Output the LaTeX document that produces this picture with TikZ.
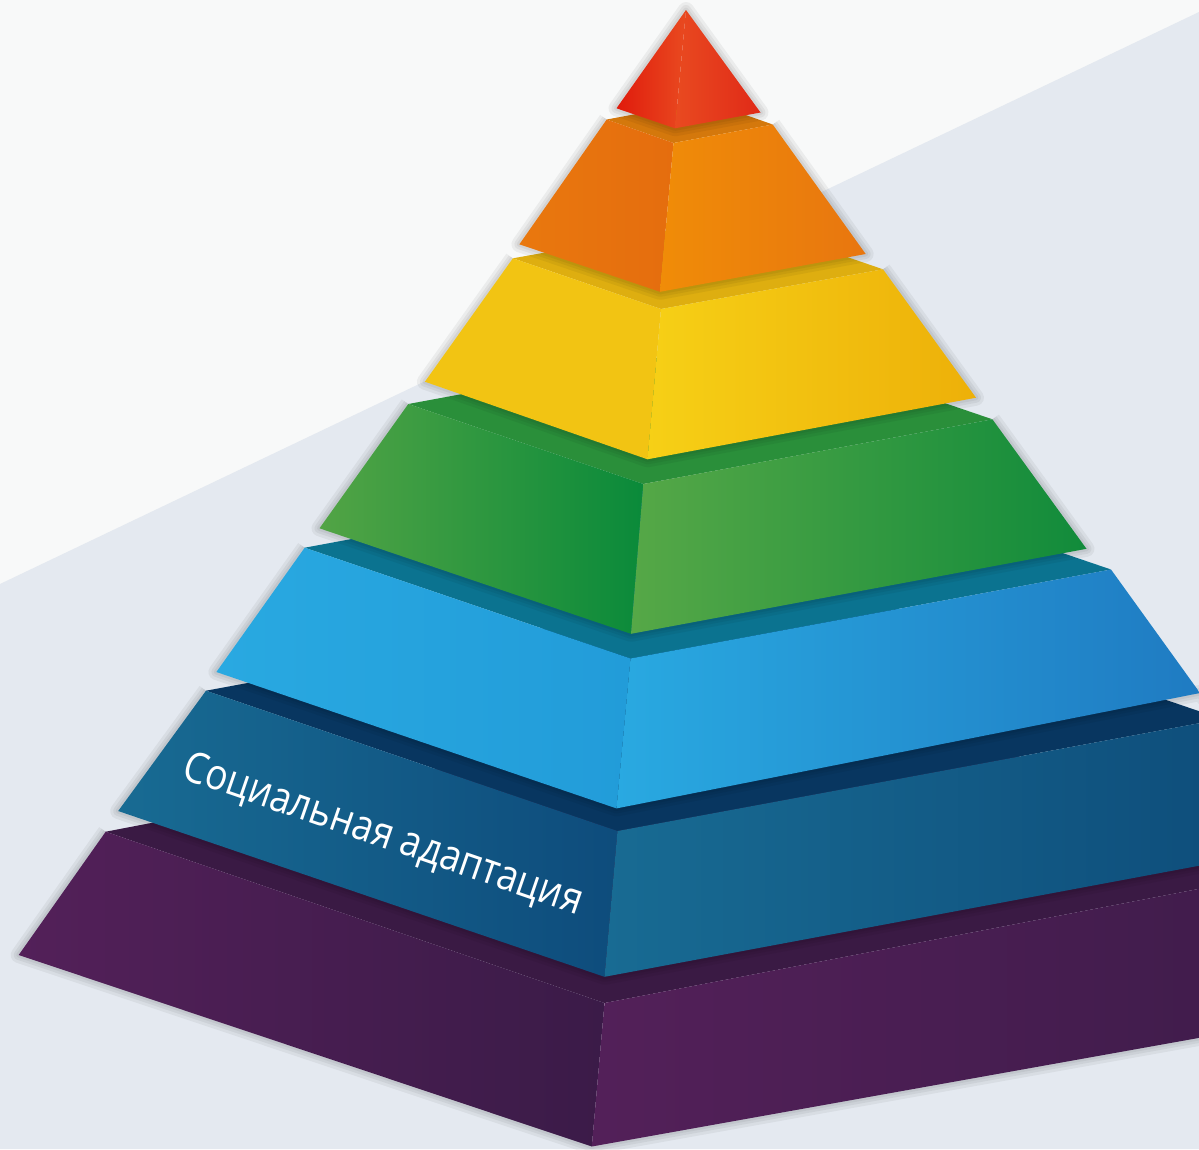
\documentclass[tikz,border=0pt]{standalone}
\usepackage{fontspec}
\newfontfamily\labelfont[FakeStretch=0.86]{Open Sans}

\definecolor{bglight}{HTML}{F8F9F9}
\definecolor{bgband}{HTML}{E4E9F0}
\definecolor{redA}{HTML}{E01B0C}
\definecolor{redB}{HTML}{E94A20}
\definecolor{redC}{HTML}{E02A18}
\definecolor{orangetop}{HTML}{D4780C}
\definecolor{orangeA}{HTML}{E9780E}
\definecolor{orangeB}{HTML}{E56D0E}
\definecolor{orangeC}{HTML}{F08C08}
\definecolor{orangeD}{HTML}{E8760F}
\definecolor{yellowtop}{HTML}{DEAE10}
\definecolor{yellowA}{HTML}{F2C413}
\definecolor{yellowB}{HTML}{F6D016}
\definecolor{yellowC}{HTML}{EDB009}
\definecolor{greentop}{HTML}{2A8F3A}
\definecolor{greenA}{HTML}{52A445}
\definecolor{greenB}{HTML}{0A8A3A}
\definecolor{greenC}{HTML}{56A847}
\definecolor{greenD}{HTML}{118B3B}
\definecolor{bluetop}{HTML}{0B7390}
\definecolor{blueA}{HTML}{29A9E1}
\definecolor{blueB}{HTML}{229CD9}
\definecolor{blueC}{HTML}{1F7BC2}
\definecolor{navytop}{HTML}{083660}
\definecolor{navyA}{HTML}{186B93}
\definecolor{navyB}{HTML}{0E4C7C}
\definecolor{navyC}{HTML}{0D4A78}
\definecolor{purpletop}{HTML}{3A1A44}
\definecolor{purpleA}{HTML}{532059}
\definecolor{purpleB}{HTML}{3B1B48}

\tikzset{halo/.style={draw=black, line join=round, opacity=0.05, line width=#1}}

\begin{document}
\begin{tikzpicture}[x=1pt, y=-1pt]
\useasboundingbox (0,0) rectangle (1199,1149);

% background
\fill[bglight] (0,0) rectangle (1199,1149);
\fill[bgband] (0,584) -- (1199,12) -- (1199,1149) -- (0,1149) -- cycle;

% purple
\foreach \w in {16,10,5}
  \draw[halo=\w] (105.7,831.7) -- (18.7,955) -- (591.8,1146.5) -- (1422,998);
\fill[purpletop] (105.7,831.7) -- (604.5,1003) -- (1331,863.5) -- (832.2,692.2) -- cycle;
\shade[left color=purpleA, right color=purpleB] (105.7,831.7) -- (604.5,1003) -- (591.8,1146.5) -- (18.7,955) -- cycle;
\shade[left color=purpleA, right color=purpleB] (604.5,1003) -- (1331,863.5) -- (1422,998) -- (591.8,1146.5) -- cycle;

% dark blue
\foreach \w in {16,10,5}
  \draw[halo=\w] (206,690.7) -- (118.2,811) -- (604.5,976.8) -- (1310,845);
\fill[navytop] (206,690.7) -- (617.5,831) -- (1222,719) -- (810.5,578.7) -- cycle;
\shade[left color=navyA, right color=navyB] (206,690.7) -- (617.5,831) -- (604.5,976.8) -- (118.2,811) -- cycle;
\shade[left color=navyA, right color=navyC] (617.5,831) -- (1222,719) -- (1310,845) -- (604.5,976.8) -- cycle;

% blue
\foreach \w in {16,10,5}
  \draw[halo=\w] (304.7,547.7) -- (216.4,672) -- (616.5,808.4) -- (1200,693) -- (1222,719);
\fill[bluetop] (304.7,547.7) -- (630.5,658.5) -- (1111,569.5) -- (785.2,458.7) -- cycle;
\shade[left color=blueA, right color=blueB] (304.7,547.7) -- (630.5,658.5) -- (616.5,808.4) -- (216.4,672) -- cycle;
\shade[left color=blueA, right color=blueC] (630.5,658.5) -- (1111,569.5) -- (1200,693) -- (616.5,808.4) -- cycle;

% green
\foreach \w in {16,10,5}
  \draw[halo=\w] (408.3,404) -- (319.5,528.3) -- (631,633.8) -- (1086.5,548.8) -- (992.4,419.3);
\fill[greentop] (408.3,404) -- (643.3,484) -- (992.4,419.3) -- (757.4,339.3) -- cycle;
\shade[left color=greenA, right color=greenB] (408.3,404) -- (643.3,484) -- (631,633.8) -- (319.5,528.3) -- cycle;
\shade[left color=greenC, right color=greenD] (643.3,484) -- (992.4,419.3) -- (1086.5,548.8) -- (631,633.8) -- cycle;

% yellow
\foreach \w in {16,10,5}
  \draw[halo=\w] (512.9,258.3) -- (424.9,381.7) -- (647.5,459.3) -- (976,397.7) -- (883,269.3);
\fill[yellowtop] (512.9,258.3) -- (661,309) -- (883,269.3) -- (734.9,218.6) -- cycle;
\shade[left color=yellowA, right color=yellowA] (512.9,258.3) -- (661,309) -- (647.5,459.3) -- (424.9,381.7) -- cycle;
\shade[left color=yellowB, right color=yellowC] (661,309) -- (883,269.3) -- (976,397.7) -- (647.5,459.3) -- cycle;

% orange
\foreach \w in {16,10,5}
  \draw[halo=\w] (606.7,119.5) -- (519.4,244.3) -- (660,291.8) -- (865.7,254) -- (772.7,124.5);
\fill[orangetop] (606.7,119.5) -- (673.5,143) -- (772.7,124.5) -- (705.9,101) -- cycle;
\shade[left color=orangeA, right color=orangeB] (606.7,119.5) -- (673.5,143) -- (660,291.8) -- (519.4,244.3) -- cycle;
\shade[left color=orangeC, right color=orangeD] (673.5,143) -- (772.7,124.5) -- (865.7,254) -- (660,291.8) -- cycle;

% red
\foreach \w in {16,10,5}
  \draw[halo=\w] (686,10) -- (616.5,108.3) -- (675,128.3) -- (760.5,112.5) -- cycle;
\shade[left color=redA, right color=redB] (686,10) -- (616.5,108.3) -- (675,128.3) -- cycle;
\shade[left color=redB, right color=redC] (686,10) -- (675,128.3) -- (760.5,112.5) -- cycle;

\node[rotate=-19, anchor=base west, text=white, inner sep=0pt,
  font=\labelfont\fontsize{43}{43}\selectfont] (social) at (180,778) {Социальная адаптация};

\end{tikzpicture}
\end{document}
